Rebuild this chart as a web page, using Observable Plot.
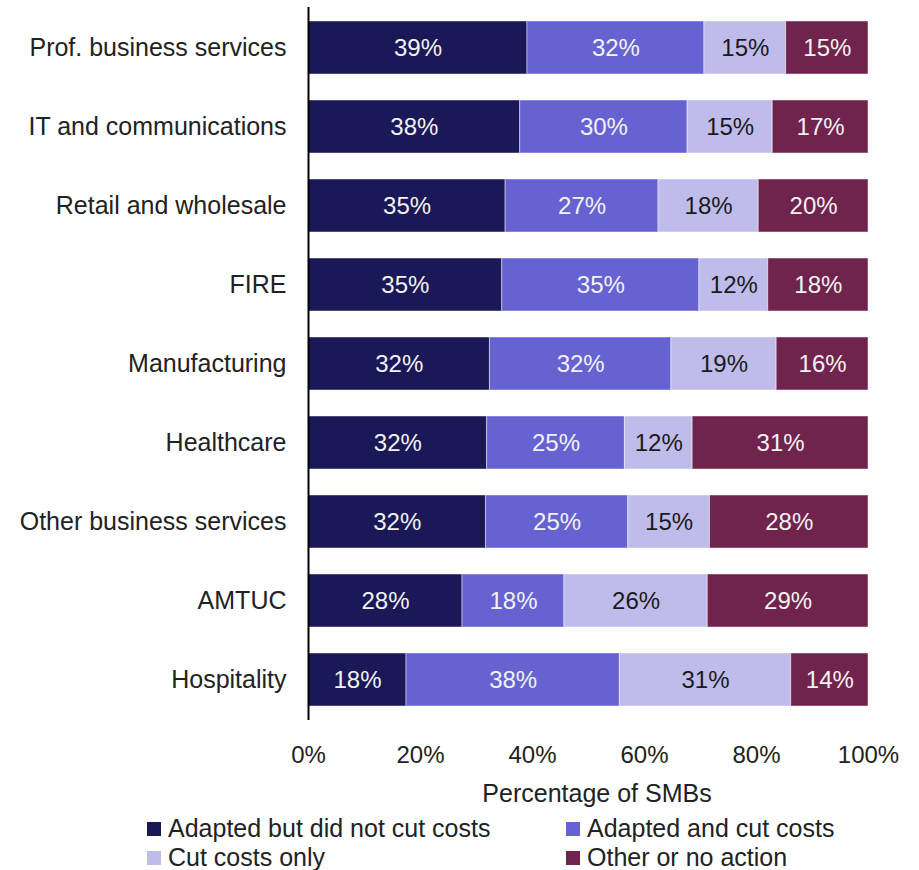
<!DOCTYPE html>
<html>
<head>
<meta charset="utf-8">
<script src="https://cdn.jsdelivr.net/npm/d3@7"></script>
<script src="https://cdn.jsdelivr.net/npm/@observablehq/plot@0.6"></script>
<style>
  html, body { margin: 0; padding: 0; background: #fff; }
  #wrap { position: relative; width: 919px; height: 870px; font-family: 'Liberation Sans', Arial, sans-serif; color: #222; }
  #chart svg { display: block; }
  .abs { position: absolute; white-space: nowrap; line-height: 1; }
  .sw { position: absolute; width: 14px; height: 14px; }
</style>
</head>
<body>
<div id="wrap">
  <div id="chart"></div>
</div>
<script>
const sectors = ["Prof. business services", "IT and communications", "Retail and wholesale", "FIRE",
  "Manufacturing", "Healthcare", "Other business services", "AMTUC", "Hospitality"];
const categories = ["Adapted but did not cut costs", "Adapted and cut costs", "Cut costs only", "Other or no action"];
const colors = ["#1b1857", "#6762d2", "#bfbcec", "#70234c"];
const textColors = ["#f2f2f2", "#f2f2f2", "#1a1a1a", "#f2f2f2"];

const adaptedNoCut = [39.1, 37.8, 35.2, 34.6, 32.4, 31.9, 31.7, 27.5, 17.5];
const adaptedCut   = [31.6, 29.9, 27.3, 35.2, 32.4, 24.6, 25.4, 18.2, 38.1];
const cutOnly      = [14.6, 15.2, 17.9, 12.3, 18.8, 12.1, 14.6, 25.6, 30.6];
const otherAction  = [14.7, 17.1, 19.6, 17.9, 16.4, 31.4, 28.3, 28.7, 13.8];
const xTicks = [0, 20, 40, 60, 80, 100];
const axisTitle = "Percentage of SMBs";

const series = [adaptedNoCut, adaptedCut, cutOnly, otherAction];
const rows = sectors.flatMap((s, i) => categories.map((c, j) => ({
  sector: s, category: c, value: series[j][i], ci: j
})));

const chart = Plot.plot({
  width: 919,
  height: 775,
  marginLeft: 308,
  marginRight: 51,
  marginTop: 7,
  marginBottom: 55,
  style: { fontFamily: "'Liberation Sans', Arial, sans-serif", fontSize: "24px", color: "#222", background: "white" },
  x: { domain: [0, 100], ticks: xTicks, tickFormat: d => d + "%", tickSize: 0, tickPadding: 25, label: null },
  y: { domain: sectors, paddingInner: 0.335, paddingOuter: 0.1675, tickSize: 0, tickPadding: 22, label: null },
  color: { type: "identity" },
  marks: [
    Plot.barX(rows, Plot.stackX({
      x: "value", y: "sector", z: "category",
      fill: d => colors[d.ci], stroke: "#ffffff", strokeOpacity: 0.45, strokeWidth: 1
    })),
    Plot.text(rows, Plot.stackX({
      x: "value", y: "sector", z: "category",
      text: d => Math.round(d.value) + "%",
      fill: d => textColors[d.ci], fontSize: 24
    })),
    Plot.ruleX([0], { stroke: "#000", strokeWidth: 2 }),
    Plot.axisY({ tickSize: 0, tickPadding: 22, fontSize: 25, label: null }),
    Plot.axisX({ ticks: xTicks, tickFormat: d => d + "%", tickSize: 0, tickPadding: 25, fontSize: 24, label: null })
  ]
});
document.getElementById("chart").appendChild(chart);

const wrap = document.getElementById("wrap");
const t = document.createElement("div");
t.className = "abs";
t.textContent = axisTitle;
t.style.fontSize = "25px";
t.style.left = "597px";
t.style.top = "781px";
t.style.transform = "translateX(-50%)";
wrap.appendChild(t);

const legendPos = [[147, 829], [566, 829], [147, 858], [566, 858]];
categories.forEach((c, i) => {
  const [x, y] = legendPos[i];
  const sw = document.createElement("div");
  sw.className = "sw";
  sw.style.background = colors[i];
  sw.style.left = x + "px";
  sw.style.top = (y - 7) + "px";
  wrap.appendChild(sw);
  const lab = document.createElement("div");
  lab.className = "abs";
  lab.style.fontSize = "25px";
  lab.style.left = (x + 21) + "px";
  lab.style.top = (y - 13) + "px";
  lab.textContent = c;
  wrap.appendChild(lab);
});
</script>
</body>
</html>
